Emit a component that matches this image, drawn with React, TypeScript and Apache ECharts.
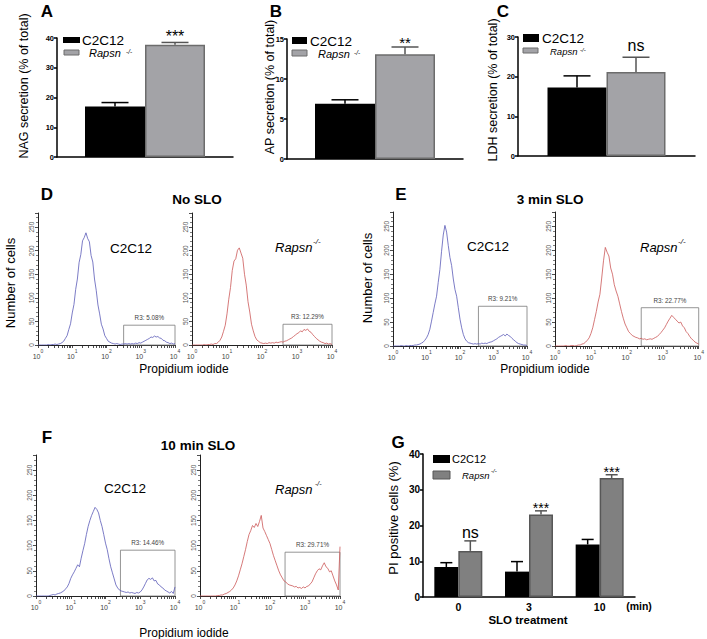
import React, { useEffect, useRef } from 'react';
import * as echarts from 'echarts';

const FONT = '"Liberation Sans", Arial, Helvetica, sans-serif';

// ---------- Panels A-C (secretion) ----------
const NAG_MEAN = [17.0, 37.7];
const NAG_ERR = [18.3, 38.5];
const AP_MEAN = [6.9, 13.1];
const AP_ERR = [7.4, 14.0];
const LDH_MEAN = [17.3, 21.2];
const LDH_ERR = [20.2, 24.9];
const SIG_ABC = ['***', '**', 'ns'];

// ---------- Panel G (PI positive cells) ----------
const SLO_TIMES = ['0', '3', '10'];
const PI_C2C12 = [8.4, 7.1, 14.7];
const PI_C2C12_ERR = [9.6, 9.9, 16.1];
const PI_RAPSN = [12.9, 23.1, 33.3];
const PI_RAPSN_ERR = [15.7, 24.1, 34.2];
const PI_SIG = ['ns', '***', '***'];

// ---------- Histograms D-F (log10 channel bins 0..4) ----------
const HIST_BINS = Array.from({ length: 81 }, (_, i) => Math.round(i * 5) / 100);
const DECADES = [0, 1, 2, 3, 4];
const LOG_TICKS: number[] = [];
for (let n = 0; n < 4; n++) for (let k = 1; k <= 9; k++) LOG_TICKS.push(n + Math.log10(k));
LOG_TICKS.push(4);

const D_C2C12 = [0,0,0,0,0,0,1,0,1,1,
  2,1,2,3,5,8,14,20,33,45,
  68,86,118,140,175,192,221,228,238,226,
  219,190,176,140,116,85,66,44,34,20,
  14,8,6,4,3,2,3,2,1,2,
  2,3,2,3,2,3,2,4,3,5,
  4,6,8,10,12,14,17,16,19,17,
  18,15,14,10,9,6,5,3,4,2,
  3];
const D_RAPSN = [0,0,0,0,0,0,0,1,0,1,
  1,2,1,3,3,6,10,17,29,42,
  66,97,122,158,178,183,201,206,195,184,
  150,127,92,70,44,30,18,11,8,5,
  4,3,4,3,5,4,5,4,6,5,
  6,7,6,8,9,11,13,15,18,21,
  24,26,30,28,33,31,34,29,27,22,
  18,14,11,8,6,5,3,4,2,3,
  1];
const E_C2C12 = [0,0,0,0,0,1,0,0,1,0,
  1,1,1,2,2,3,4,6,8,12,
  17,24,35,52,70,88,104,133,160,198,
  232,252,238,210,185,168,140,118,104,80,
  56,38,24,15,10,7,6,5,4,5,
  4,5,4,6,5,6,5,7,8,9,
  11,13,15,18,20,22,24,21,25,22,
  20,16,13,10,7,5,4,3,2,2,
  1];
const E_RAPSN = [0,0,0,0,0,0,1,0,0,1,
  1,0,1,2,2,4,5,8,12,17,
  26,38,55,72,92,108,142,178,206,196,
  188,163,150,128,115,104,88,72,58,46,
  38,30,26,22,20,18,17,15,16,14,
  15,13,14,15,14,16,18,20,24,28,
  33,38,45,52,58,64,60,56,52,48,
  50,42,38,30,26,20,15,12,8,6,
  4];
const F_C2C12 = [0,0,0,0,0,0,0,0,1,2,
  3,2,4,5,6,8,10,14,18,25,
  35,42,48,55,62,58,75,90,104,122,
  138,150,160,168,176,172,165,150,138,122,
  105,92,74,58,46,34,22,16,12,10,
  9,8,7,8,6,7,6,5,7,6,
  8,12,18,25,32,35,33,36,30,31,
  24,22,18,16,12,10,8,6,9,5,
  18];
const F_RAPSN = [0,0,0,0,0,0,0,0,0,0,
  1,1,2,2,4,5,7,9,12,16,
  22,30,40,52,64,78,92,108,122,130,
  140,136,144,138,148,160,135,128,120,112,
  104,92,80,70,60,50,42,36,30,28,
  24,22,21,20,18,19,16,17,15,18,
  16,19,20,24,28,36,44,50,54,52,
  60,66,58,55,48,50,40,30,22,12,
  98];

const GATE_LABELS = ['R3: 5.08%', 'R3: 12.29%', 'R3: 9.21%', 'R3: 22.77%', 'R3: 14.46%', 'R3: 29.71%'];
const GATE_LO = [2.5, 2.6, 2.55, 2.4, 2.43, 2.43];
const GATE_HI = [4, 4, 4, 4, 4, 4];
const GATE_TOP = [42, 44, 83, 80, 91, 87];

const HISTS = [D_C2C12, D_RAPSN, E_C2C12, E_RAPSN, F_C2C12, F_RAPSN];
const HIST_COLORS = ['#5a5ab8', '#cc5858', '#5a5ab8', '#cc5858', '#5a5ab8', '#cc5858'];

// ---------- layout ----------
const GRIDS = [
  { left: 57, top: 38, width: 176, height: 119 },   // A
  { left: 287, top: 39, width: 176, height: 120 },  // B
  { left: 518, top: 37, width: 177, height: 119 },  // C
  { left: 38, top: 213, width: 137, height: 132 },  // D left
  { left: 192, top: 213, width: 140, height: 132 }, // D right
  { left: 393, top: 212, width: 134, height: 134 }, // E left
  { left: 555, top: 212, width: 145, height: 134 }, // E right
  { left: 36, top: 455, width: 139, height: 141 },  // F left
  { left: 200, top: 455, width: 140, height: 141 }, // F right
  { left: 423, top: 454, width: 212, height: 143 }, // G
];

const GRAY_ABC = '#a3a3a7';
const GRAY_ABC_BORDER = '#6c6c6c';
const GRAY_G = '#808080';
const GRAY_G_BORDER = '#575757';

function barX(g: number, data: string[], showLabels = false) {
  return {
    type: 'category', gridIndex: g, data,
    axisLine: { lineStyle: { color: '#000', width: 1.5 } },
    axisTick: { show: false },
    axisLabel: { show: showLabels, fontSize: 10.5, fontWeight: 'bold', color: '#000', margin: 4, fontFamily: FONT },
  };
}
function barY(g: number, max: number, interval: number, size = 7.5) {
  return {
    type: 'value', gridIndex: g, min: 0, max, interval,
    splitLine: { show: false },
    axisLine: { show: true, lineStyle: { color: '#000', width: 1.5 } },
    axisTick: { show: true, length: 3, lineStyle: { width: 1.5, color: '#000' } },
    axisLabel: { fontSize: size, fontWeight: 'bold', color: '#000', margin: 3, fontFamily: FONT },
  };
}
function histX(g: number) {
  return {
    type: 'value', gridIndex: g, min: 0, max: 4, interval: 1,
    splitLine: { show: false },
    axisLine: { lineStyle: { color: '#222', width: 1 } },
    axisTick: { show: true, customValues: LOG_TICKS, length: 3, lineStyle: { color: '#222', width: 0.8 } },
    axisLabel: {
      customValues: DECADES, margin: 3, color: '#444',
      formatter: (v: number) => `{b|10}{s|${v}}`,
      rich: {
        b: { fontSize: 7, fontFamily: FONT, color: '#444', verticalAlign: 'bottom', lineHeight: 12 },
        s: { fontSize: 5, fontFamily: FONT, color: '#444', verticalAlign: 'top' },
      },
    },
  };
}
function histY(g: number) {
  return {
    type: 'value', gridIndex: g, min: 0, max: 280, interval: 50,
    splitLine: { show: false },
    axisLine: { show: true, lineStyle: { color: '#222', width: 1 } },
    axisTick: { show: true, length: 3, lineStyle: { color: '#222', width: 0.8 } },
    minorTick: { show: true, splitNumber: 5, length: 2, lineStyle: { color: '#222', width: 0.6 } },
    axisLabel: {
      rotate: 90, fontSize: 6.5, color: '#555', margin: 3, fontFamily: FONT,
      formatter: (v: number) => (v % 50 === 0 ? String(v) : ''),
    },
  };
}

function errSeries(axis: number, data: number[][], offsets: number[], cap: number, colors: string[],
  sigs: string[], sigSize: number, sigGap: number) {
  return {
    type: 'custom', xAxisIndex: axis, yAxisIndex: axis, z: 5,
    data,
    renderItem: (params: any, api: any) => {
      const cat = api.value(0);
      const mean = api.value(1);
      const top = api.value(2);
      const k = api.value(3);
      const base = api.coord([cat, mean]);
      const tp = api.coord([cat, top]);
      const x = base[0] + offsets[k];
      const children: any[] = [
        { type: 'line', shape: { x1: x, y1: base[1], x2: x, y2: tp[1] }, style: { stroke: colors[k], lineWidth: 1.5 } },
        { type: 'line', shape: { x1: x - cap / 2, y1: tp[1], x2: x + cap / 2, y2: tp[1] }, style: { stroke: colors[k], lineWidth: 1.5 } },
      ];
      const s = sigs[params.dataIndex];
      if (s) {
        children.push({
          type: 'text',
          style: { text: s, x, y: tp[1] - sigGap, align: 'center', verticalAlign: 'middle', fontSize: sigSize, fontFamily: FONT, fill: '#000' },
        });
      }
      return { type: 'group', children };
    },
  };
}

function txt(x: number, y: number, text: string, o: any = {}) {
  return {
    type: 'text', x, y, rotation: o.rot || 0, z: 10,
    style: {
      text, align: o.align || 'center', verticalAlign: o.va || 'middle',
      fontSize: o.size || 12, fontWeight: o.weight || 'normal', fontStyle: o.style || 'normal',
      fontFamily: FONT, fill: o.color || '#000',
    },
  };
}
function rect(x: number, y: number, w: number, h: number, fill: string, stroke?: string) {
  return { type: 'rect', z: 10, shape: { x, y, width: w, height: h }, style: { fill, stroke: stroke || fill, lineWidth: stroke ? 1 : 0 } };
}

function buildOption() {
  const xAxis: any[] = [
    barX(0, ['']), barX(1, ['']), barX(2, ['']),
    histX(3), histX(4), histX(5), histX(6), histX(7), histX(8),
    barX(9, SLO_TIMES, true),
  ];
  const yAxis: any[] = [
    barY(0, 40, 10), barY(1, 15, 5), barY(2, 30, 10),
    histY(3), histY(4), histY(5), histY(6), histY(7), histY(8),
    barY(9, 40, 10, 10),
  ];

  const series: any[] = [];
  const abc = [
    { m: NAG_MEAN, e: NAG_ERR, w: 60, sigSize: 16, sigGap: 6 },
    { m: AP_MEAN, e: AP_ERR, w: 60, sigSize: 15, sigGap: 5 },
    { m: LDH_MEAN, e: LDH_ERR, w: 59, sigSize: 16, sigGap: 11.5 },
  ];
  abc.forEach((p, a) => {
    series.push({
      type: 'bar', name: 'C2C12', xAxisIndex: a, yAxisIndex: a, data: [p.m[0]],
      barWidth: p.w, barGap: '0%', itemStyle: { color: '#000' },
    });
    series.push({
      type: 'bar', name: 'Rapsn', xAxisIndex: a, yAxisIndex: a, data: [p.m[1]],
      barWidth: p.w, barGap: '0%', itemStyle: { color: GRAY_ABC, borderColor: GRAY_ABC_BORDER, borderWidth: 1.5 },
    });
    series.push(errSeries(a, [[0, p.m[0], p.e[0], 0], [0, p.m[1], p.e[1], 1]],
      [-p.w / 2, p.w / 2], 27, ['#000', '#555'], ['', SIG_ABC[a]], p.sigSize, p.sigGap));
  });

  HISTS.forEach((h, k) => {
    const ax = 3 + k;
    series.push({
      type: 'line', xAxisIndex: ax, yAxisIndex: ax, showSymbol: false, symbol: 'none',
      data: HIST_BINS.map((x, i) => [x, h[i]]),
      lineStyle: { color: HIST_COLORS[k], width: 0.8 },
      markArea: {
        silent: true,
        itemStyle: { color: 'rgba(0,0,0,0)', borderColor: '#7a7a7a', borderWidth: 0.8 },
        label: { show: true, position: 'top', formatter: GATE_LABELS[k], fontSize: 6.3, color: '#444', distance: 4, fontFamily: FONT },
        data: [[{ xAxis: GATE_LO[k], yAxis: 0 }, { xAxis: GATE_HI[k], yAxis: GATE_TOP[k] }]],
      },
    });
  });

  // Panel G
  series.push({
    type: 'bar', name: 'C2C12', xAxisIndex: 9, yAxisIndex: 9, data: PI_C2C12,
    barWidth: 24, barGap: '0%', itemStyle: { color: '#000' },
  });
  series.push({
    type: 'bar', name: 'Rapsn', xAxisIndex: 9, yAxisIndex: 9, data: PI_RAPSN,
    barWidth: 24, barGap: '0%', itemStyle: { color: GRAY_G, borderColor: GRAY_G_BORDER, borderWidth: 1.5 },
  });
  const gData: number[][] = [];
  const gSig: string[] = [];
  SLO_TIMES.forEach((_, i) => {
    gData.push([i, PI_C2C12[i], PI_C2C12_ERR[i], 0]); gSig.push('');
    gData.push([i, PI_RAPSN[i], PI_RAPSN_ERR[i], 1]); gSig.push(PI_SIG[i]);
  });
  series.push({
    type: 'custom', xAxisIndex: 9, yAxisIndex: 9, z: 5,
    data: gData,
    renderItem: (params: any, api: any) => {
      const cat = api.value(0), mean = api.value(1), top = api.value(2), k = api.value(3);
      const base = api.coord([cat, mean]);
      const tp = api.coord([cat, top]);
      const x = base[0] + (k === 0 ? -12 : 12);
      const col = k === 0 ? '#000' : '#555';
      const children: any[] = [
        { type: 'line', shape: { x1: x, y1: base[1], x2: x, y2: tp[1] }, style: { stroke: col, lineWidth: 1.5 } },
        { type: 'line', shape: { x1: x - 6, y1: tp[1], x2: x + 6, y2: tp[1] }, style: { stroke: col, lineWidth: 1.5 } },
      ];
      const s = gSig[params.dataIndex];
      if (s) {
        const isNs = s === 'ns';
        children.push({
          type: 'text',
          style: { text: s, x, y: tp[1] - (isNs ? 8.5 : 2.5), align: 'center', verticalAlign: 'middle',
            fontSize: isNs ? 16 : 14, fontFamily: FONT, fill: '#000' },
        });
      }
      return { type: 'group', children };
    },
  });

  const R = Math.PI / 2;
  const graphic: any[] = [
    // panel letters
    txt(47, 11, 'A', { size: 17, weight: 'bold' }),
    txt(276, 11, 'B', { size: 17, weight: 'bold' }),
    txt(503, 11, 'C', { size: 17, weight: 'bold' }),
    txt(47, 194, 'D', { size: 17, weight: 'bold' }),
    txt(401, 194, 'E', { size: 17, weight: 'bold' }),
    txt(47, 437, 'F', { size: 17, weight: 'bold' }),
    txt(398, 442, 'G', { size: 17, weight: 'bold' }),
    // y axis titles A-C
    txt(24, 86, 'NAG secretion (% of total)', { rot: R, size: 12.5 }),
    txt(270, 87, 'AP secretion (% of total)', { rot: R, size: 12.5 }),
    txt(493, 90, 'LDH secretion (% of total)', { rot: R, size: 12.5 }),
    // legends A
    rect(63, 37, 17, 6, '#000'),
    txt(82, 40, 'C2C12', { align: 'left', size: 13.5 }),
    rect(64, 50, 15, 5, GRAY_ABC, GRAY_ABC_BORDER),
    txt(89, 53, 'Rapsn', { align: 'left', size: 11, style: 'italic' }),
    txt(126, 51, '-/-', { align: 'left', size: 6.5, style: 'italic' }),
    // legends B
    rect(292, 37, 15, 7, '#000'),
    txt(310, 41, 'C2C12', { align: 'left', size: 13.5 }),
    rect(292, 50, 15, 6, GRAY_ABC, GRAY_ABC_BORDER),
    txt(318, 54, 'Rapsn', { align: 'left', size: 11, style: 'italic' }),
    txt(354, 52, '-/-', { align: 'left', size: 6.5, style: 'italic' }),
    // legends C
    rect(523, 34, 16, 8, '#000'),
    txt(542, 38, 'C2C12', { align: 'left', size: 13.5 }),
    rect(523, 48, 15, 5, GRAY_ABC, GRAY_ABC_BORDER),
    txt(550, 51, 'Rapsn', { align: 'left', size: 9.5, style: 'italic' }),
    txt(580, 49.5, '-/-', { align: 'left', size: 6, style: 'italic' }),
    // titles of histogram rows
    txt(197, 199, 'No SLO', { size: 13.5, weight: 'bold' }),
    txt(550, 199, '3 min SLO', { size: 13.5, weight: 'bold' }),
    txt(198, 445, '10 min SLO', { size: 13.5, weight: 'bold' }),
    // in-plot labels
    txt(131, 248, 'C2C12', { size: 13.5 }),
    txt(275, 247, 'Rapsn', { align: 'left', size: 13, style: 'italic' }),
    txt(313, 241, '-/-', { align: 'left', size: 8, style: 'italic' }),
    txt(488, 246, 'C2C12', { size: 13.5 }),
    txt(640, 247, 'Rapsn', { align: 'left', size: 13, style: 'italic' }),
    txt(678, 241, '-/-', { align: 'left', size: 8, style: 'italic' }),
    txt(125, 488, 'C2C12', { size: 13.5 }),
    txt(275, 489, 'Rapsn', { align: 'left', size: 13, style: 'italic' }),
    txt(315, 483, '-/-', { align: 'left', size: 7, style: 'italic' }),
    // histogram axis titles
    txt(10, 283, 'Number of cells', { rot: R, size: 13 }),
    txt(367, 278, 'Number of cells', { rot: R, size: 13 }),
    txt(184, 369, 'Propidium iodide', { size: 12 }),
    txt(545, 369, 'Propidium iodide', { size: 12 }),
    txt(184, 633, 'Propidium iodide', { size: 12 }),
    // panel G texts
    txt(393, 518, 'PI positive cells (%)', { rot: R, size: 13 }),
    txt(528, 620, 'SLO treatment', { size: 11.5, weight: 'bold' }),
    txt(639, 606, '(min)', { size: 10.5, weight: 'bold' }),
    rect(433, 455, 17, 8, '#000'),
    txt(452, 459, 'C2C12', { align: 'left', size: 11 }),
    rect(433, 471, 17, 8, GRAY_G, GRAY_G_BORDER),
    txt(462, 475, 'Rapsn', { align: 'left', size: 9.5, style: 'italic' }),
    txt(491, 471, '-/-', { align: 'left', size: 6, style: 'italic' }),
  ];

  return {
    animation: false,
    backgroundColor: '#ffffff',
    grid: GRIDS.map((g) => ({ ...g, containLabel: false })),
    xAxis, yAxis, series, graphic,
  };
}

export default function App() {
  const ref = useRef<HTMLDivElement>(null);
  useEffect(() => {
    if (!ref.current) return;
    const chart = echarts.init(ref.current, undefined, { renderer: 'svg' });
    chart.setOption(buildOption() as any);
    return () => chart.dispose();
  }, []);
  return (
    <div
      ref={ref}
      style={{ position: 'fixed', left: 0, top: 0, width: 707, height: 639, background: '#fff' }}
    />
  );
}
